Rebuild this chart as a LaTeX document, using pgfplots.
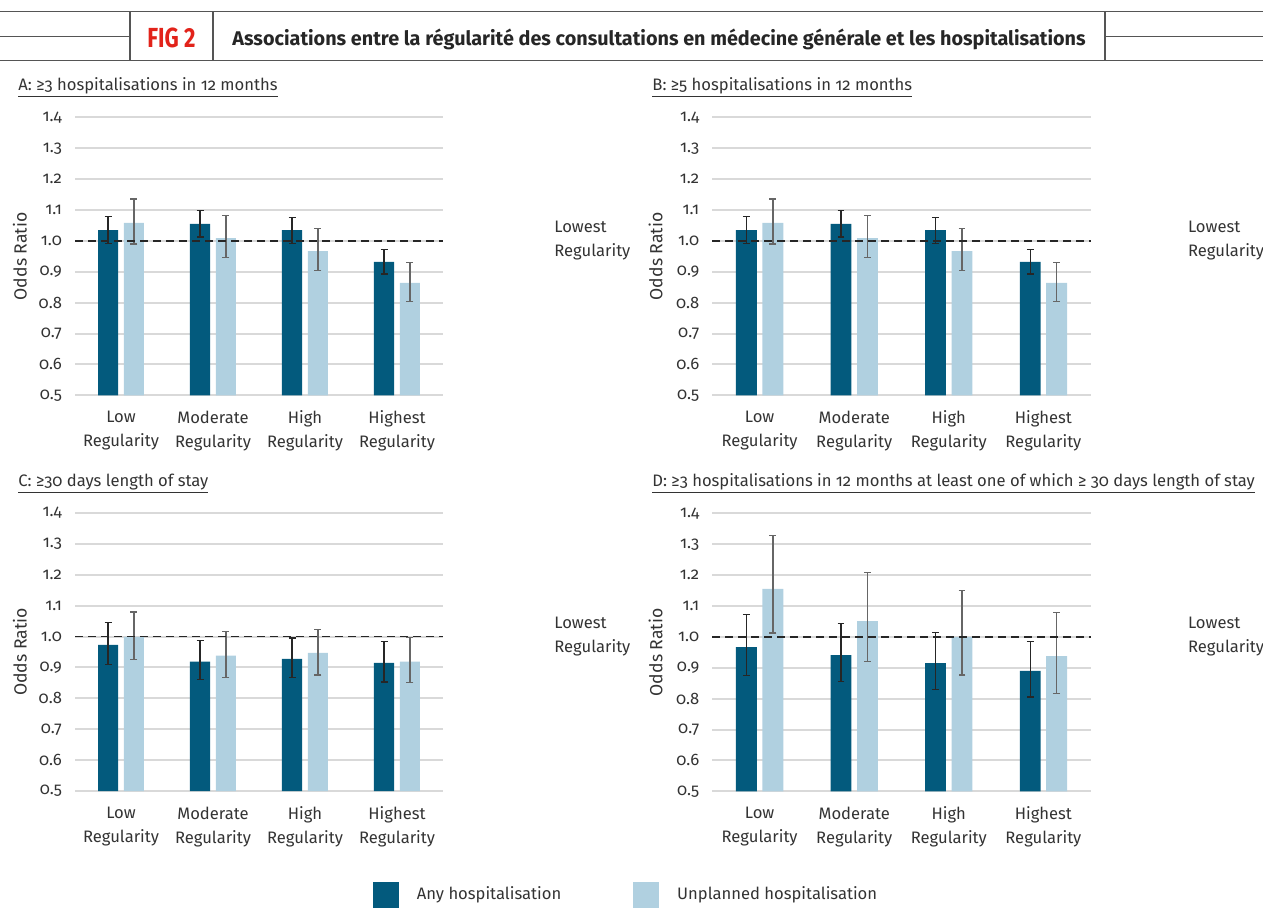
\documentclass[border=0pt]{standalone}
\usepackage{fontspec}
\setmainfont{Fira Sans}[Numbers=OldStyle]
\newfontfamily\condbold{Fira Sans}[FakeStretch=0.8]
\usepackage{pgfplots}
\pgfplotsset{compat=1.18}
\usepackage{pgfplotstable}

\definecolor{dkblue}{HTML}{035A7D}
\definecolor{ltblue}{HTML}{B0D0E0}
\definecolor{txt}{HTML}{333333}
\definecolor{gridc}{HTML}{D9D9D9}
\definecolor{figred}{HTML}{E2231A}
\definecolor{hdr}{HTML}{555555}

\pgfplotstableread{
x ay alo ahi uy ulo uhi
0 1.035 0.992 1.079 1.058 0.990 1.136
1 1.055 1.013 1.099 1.009 0.946 1.083
2 1.035 0.992 1.076 0.967 0.905 1.040
3 0.932 0.893 0.973 0.864 0.804 0.929
}\tabA
\pgfplotstableread{
x ay alo ahi uy ulo uhi
0 1.035 0.992 1.079 1.058 0.990 1.136
1 1.055 1.013 1.099 1.009 0.946 1.083
2 1.035 0.992 1.076 0.967 0.905 1.040
3 0.932 0.893 0.973 0.864 0.804 0.929
}\tabB
\pgfplotstableread{
x ay alo ahi uy ulo uhi
0 0.973 0.909 1.046 0.999 0.926 1.080
1 0.919 0.860 0.987 0.938 0.868 1.016
2 0.928 0.868 0.995 0.947 0.876 1.023
3 0.915 0.853 0.983 0.919 0.851 0.998
}\tabC
\pgfplotstableread{
x ay alo ahi uy ulo uhi
0 0.967 0.876 1.073 1.155 1.013 1.328
1 0.941 0.856 1.044 1.051 0.921 1.208
2 0.915 0.830 1.015 0.999 0.877 1.150
3 0.890 0.805 0.986 0.938 0.816 1.078
}\tabD

\newcommand{\txtsize}{\fontsize{8.3}{12}\selectfont}

\pgfplotsset{
  panel/.style={
    scale only axis, height=139pt, anchor=south west,
    xmin=-0.5, xmax=3.5, ymin=0.5, ymax=1.4,
    xtick={0,1,2,3},
    xticklabels={{Low\\Regularity},{Moderate\\Regularity},{High\\Regularity},{Highest\\Regularity}},
    xticklabel style={align=center, yshift=0pt},
    ytick={0.5,0.6,0.7,0.8,0.9,1.0,1.1,1.2,1.3,1.4},
    yticklabel style={/pgf/number format/fixed, /pgf/number format/fixed zerofill,
      /pgf/number format/precision=1, /pgf/number format/assume math mode=true,
      xshift=-3pt},
    ymajorgrids, major grid style={gridc, line width=1pt},
    axis line style={draw=none}, major tick style={draw=none},
    tick label style={font=\txtsize, text=txt},
    ylabel={Odds Ratio},
    ylabel style={at={(axis description cs:-0.15,0.5)}, anchor=center,
      font=\fontsize{8.8}{12}\selectfont, text=txt},
    ybar, bar width=0.22, bar shift=0pt,
    clip=false,
  },
  anybar/.style={fill=dkblue, draw=none,
    error bars/.cd, y dir=both, y explicit,
    error bar style={line width=0.65pt, black!85},
    error mark options={rotate=90, mark size=1.7pt, line width=0.65pt, black!85}},
  unbar/.style={fill=ltblue, draw=none,
    error bars/.cd, y dir=both, y explicit,
    error bar style={line width=0.65pt, black!60},
    error mark options={rotate=90, mark size=1.7pt, line width=0.65pt, black!60}},
}

\newcommand{\panelplots}[2]{%
  \addplot[anybar] table[x expr=\thisrow{x}-0.14, y=ay,
     y error plus expr=\thisrow{ahi}-\thisrow{ay},
     y error minus expr=\thisrow{ay}-\thisrow{alo}]{#1};
  \addplot[unbar] table[x expr=\thisrow{x}+0.14, y=uy,
     y error plus expr=\thisrow{uhi}-\thisrow{uy},
     y error minus expr=\thisrow{uy}-\thisrow{ulo}]{#1};
  \addplot[forget plot, sharp plot, no marks, black!85, line width=0.7pt,
     dash pattern=on 4pt off 2.5pt] coordinates {(-0.5,1) (3.5,1)};
  \node[anchor=west, align=left, inner sep=0pt, xshift=#2, font=\txtsize, text=txt]
     at (axis cs:3.5,1) {Lowest\\Regularity};
}

\begin{document}
\begin{tikzpicture}
\useasboundingbox (0,0) rectangle (631.5pt,-455pt);

% header
\draw[hdr, line width=0.8pt] (0,-5.75pt) -- (631.5pt,-5.75pt);
\draw[hdr, line width=0.8pt] (0,-30.25pt) -- (631.5pt,-30.25pt);
\draw[hdr, line width=0.8pt] (0,-18.25pt) -- (65pt,-18.25pt);
\draw[hdr, line width=0.8pt] (552.5pt,-18.25pt) -- (631.5pt,-18.25pt);
\draw[hdr, line width=0.6pt] (65pt,-5.75pt) -- (65pt,-30.25pt);
\draw[hdr, line width=0.6pt] (106.5pt,-5.75pt) -- (106.5pt,-30.25pt);
\draw[hdr, line width=0.6pt] (552.5pt,-5.75pt) -- (552.5pt,-30.25pt);
\node[text=figred, font=\condbold\bfseries\fontsize{13.8}{15}\selectfont, inner sep=0pt,
  anchor=base] at (85.75pt,-23.75pt) {FIG 2};
\node[text=black!85, font=\bfseries\fontsize{9.9}{12}\selectfont, inner sep=0pt, anchor=base]
  at (329.5pt,-22.8pt)
  {Associations entre la régularité des consultations en médecine générale et les hospitalisations};

% subtitles
\node[anchor=base west, inner sep=0pt, font=\txtsize, text=txt] at (9pt,-45.25pt)
  {\underline{A: ≥3 hospitalisations in 12 months}};
\node[anchor=base west, inner sep=0pt, font=\txtsize, text=txt] at (326pt,-45.25pt)
  {\underline{B: ≥5 hospitalisations in 12 months}};
\node[anchor=base west, inner sep=0pt, font=\txtsize, text=txt] at (9pt,-243.25pt)
  {\underline{C: ≥30 days length of stay}};
\node[anchor=base west, inner sep=0pt, font=\txtsize, text=txt] at (326pt,-243.25pt)
  {\underline{D: ≥3 hospitalisations in 12 months at least one of which ≥ 30 days length of stay}};

% Panel A
\begin{axis}[panel, width=184pt, at={(37.5pt,-197.65pt)}]
\panelplots{\tabA}{55.5pt}
\end{axis}

% Panel B
\begin{axis}[panel, width=189.2pt, at={(356.15pt,-197.65pt)}]
\panelplots{\tabB}{48.5pt}
\end{axis}

% Panel C
\begin{axis}[panel, width=184pt, at={(37.5pt,-395.5pt)},
  legend style={at={(rel axis cs:1.50,-0.374)}, anchor=center, draw=none, fill=none,
    legend columns=2, font=\txtsize, text=txt,
    /tikz/every odd column/.append style={column sep=7pt},
    /tikz/every even column/.append style={column sep=34pt}},
  legend image code/.code={\fill[#1] (0pt,-6.5pt) rectangle (13pt,6.5pt);}]
\panelplots{\tabC}{55.5pt}
\addlegendentry{Any hospitalisation}
\addlegendentry{Unplanned hospitalisation}
\end{axis}

% Panel D
\begin{axis}[panel, width=189.2pt, at={(356.15pt,-395.65pt)}]
\panelplots{\tabD}{48.5pt}
\end{axis}
\end{tikzpicture}
\end{document}
